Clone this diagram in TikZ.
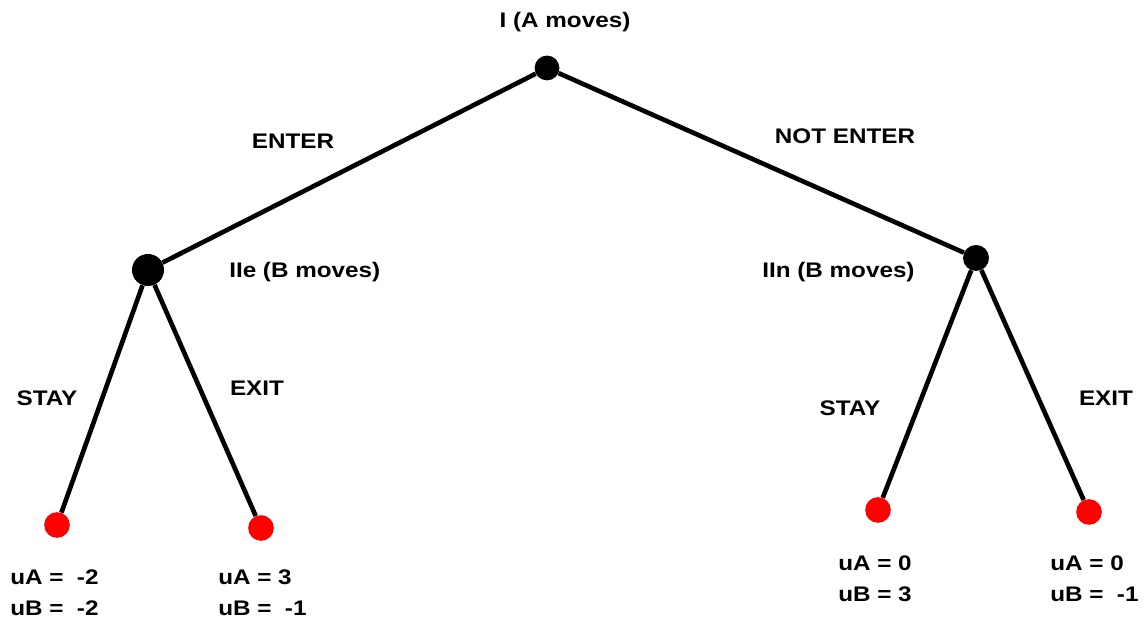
\documentclass[tikz,border=0pt]{standalone}
\usepackage{fontspec}
\setmainfont{Liberation Sans}[FakeStretch=1.15]
\usepackage{xcolor}
\usepackage{tikz}
\usetikzlibrary{shapes,positioning}
\tikzset{dec/.style={circle,fill=black,inner sep=0pt,minimum size=0.65cm},
         pay/.style={circle,fill=red,inner sep=0pt,minimum size=0.64cm},
         lbl/.style={font=\fontsize{15}{22}\selectfont\bfseries,inner sep=0pt},
         mv/.style={line width=3.3pt}}

\begin{document}
\begin{tikzpicture}[x=0.025cm,y=-0.025cm]
    \useasboundingbox (0,0) rectangle (1147,622);
    \node[dec,minimum size=0.62cm] (a)at (547,68) {};
    \node[dec,minimum size=0.8cm] (b)at (148,270) {};
    \node[dec] (c)at (976,258) {};
    \node[pay] (d)at (57,525) {};
    \node[pay] (e)at (261,528) {};
    \node[pay] (f)at (878,510) {};
    \node[pay] (g)at (1089,512) {};

    \node[lbl] (ta)at (565,22) {I (A moves)};
    \node[lbl,anchor=west] (tb)at (229,272) {IIe (B moves)};
    \node[lbl,anchor=west] (tc)at (762,272) {IIn (B moves)};
    \node[lbl] (ab)at (293,141) {ENTER};
    \node[lbl] (ac)at (845,136) {NOT ENTER};
    \node[lbl] (bd)at (47,398) {STAY};
    \node[lbl] (be)at (257,388) {EXIT};
    \node[lbl] (cf)at (850,408) {STAY};
    \node[lbl] (cg)at (1106,398) {EXIT};

    \node[lbl,anchor=west,align=left] (ud)at (10,593) {uA = \ -2\\uB = \ -2};
    \node[lbl,anchor=west,align=left] (ue)at (218,593) {uA = 3\\uB = \ -1};
    \node[lbl,anchor=west,align=left] (uf)at (838,579) {uA = 0\\uB = 3};
    \node[lbl,anchor=west,align=left] (ug)at (1050,579) {uA = 0\\uB = \ -1};

    \draw [mv] (a) to []node[]{} (b);
    \draw [mv] (a) to []node[]{} (c);
    \draw [mv] (b) to []node[]{} (d);
    \draw [mv] (b) to []node[]{} (e);
    \draw [mv] (c) to []node[]{} (f);
    \draw [mv] (c) to []node[]{} (g);
\end{tikzpicture}
\end{document}
